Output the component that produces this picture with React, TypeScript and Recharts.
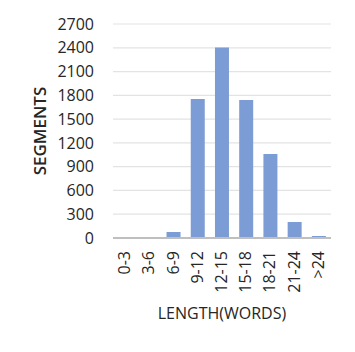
import { BarChart, Bar, XAxis, YAxis, CartesianGrid } from "recharts";

const categories = ["0-3", "3-6", "6-9", "9-12", "12-15", "15-18", "18-21", "21-24", ">24"];
const segments = [4, 4, 76, 1753, 2405, 1740, 1059, 202, 25];
const yTicks = [0, 300, 600, 900, 1200, 1500, 1800, 2100, 2400, 2700];

const data = categories.map((c, i) => ({ range: c, segments: segments[i] }));

const font = "'Open Sans', 'DejaVu Sans', sans-serif";
const textColor = "#262626";

function RotatedTick(props: any) {
  const { x, y, payload } = props;
  return (
    <g transform={`translate(${x},${y})`}>
      <text
        transform="rotate(-90)"
        textAnchor="end"
        dy={5}
        fill={textColor}
        fontSize={16}
        fontFamily={font}
      >
        {payload.value}
      </text>
    </g>
  );
}

export default function App() {
  return (
    <div style={{ position: "absolute", left: 0, top: 0, background: "#fff" }}>
      <BarChart
        width={355}
        height={352}
        data={data}
        margin={{ top: 24, right: 24, left: 20, bottom: 24 }}
        barCategoryGap="21%"
      >
        <CartesianGrid vertical={false} stroke="#e3e3e3" strokeWidth={1.2} />
        <XAxis
          dataKey="range"
          height={90}
          interval={0}
          tick={<RotatedTick />}
          tickLine={false}
          tickSize={0}
          tickMargin={13}
          axisLine={{ stroke: "#bfbfbf", strokeWidth: 2 }}
          label={{
            value: "LENGTH(WORDS)",
            position: "insideBottom",
            offset: 9,
            fill: textColor,
            fontSize: 16,
            fontFamily: font,
          }}
        />
        <YAxis
          width={93}
          domain={[0, 2700]}
          ticks={yTicks}
          interval={0}
          tickLine={false}
          axisLine={false}
          tickSize={0}
          tickMargin={19}
          tick={{ fill: textColor, fontSize: 16, fontFamily: font }}
          label={{
            value: "SEGMENTS",
            angle: -90,
            position: "insideLeft",
            offset: 20,
            fill: textColor,
            fontSize: 17,
            fontWeight: 600,
            fontFamily: font,
            style: { textAnchor: "middle" },
          }}
        />
        <Bar dataKey="segments" fill="#7b9cd5" isAnimationActive={false} />
      </BarChart>
    </div>
  );
}
